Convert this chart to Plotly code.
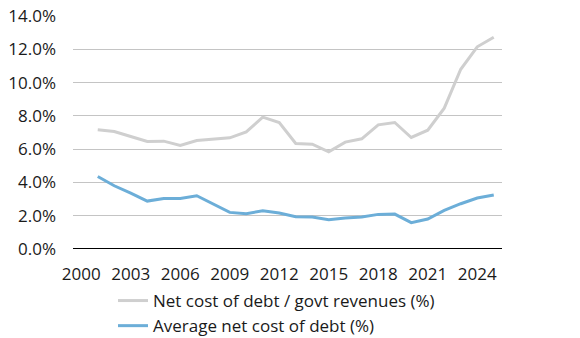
import plotly.graph_objects as go

years = list(range(2001, 2026))
debt_rev = [7.16, 7.06, 6.76, 6.46, 6.48, 6.22, 6.52, 6.62, 6.68, 7.04, 7.92, 7.60,
            6.34, 6.30, 5.84, 6.42, 6.62, 7.46, 7.60, 6.70, 7.14, 8.46, 10.8, 12.15, 12.72]
avg_cost = [4.36, 3.80, 3.36, 2.88, 3.04, 3.04, 3.20, 2.72, 2.20, 2.12, 2.30, 2.16,
            1.94, 1.92, 1.76, 1.86, 1.92, 2.08, 2.10, 1.58, 1.80, 2.32, 2.72, 3.06, 3.24]
x_ticks = list(range(2000, 2026, 3))
y_ticks = [0, 2, 4, 6, 8, 10, 12, 14]

font = "Open Sans"
fig = go.Figure()
fig.add_trace(go.Scatter(x=years, y=debt_rev, mode="lines",
                         name="Net cost of debt / govt revenues (%)",
                         line=dict(color="#cfcfcf", width=3)))
fig.add_trace(go.Scatter(x=years, y=avg_cost, mode="lines",
                         name="Average net cost of debt (%)",
                         line=dict(color="#6caed8", width=3)))

fig.update_layout(
    width=580, height=338,
    margin=dict(l=73, r=78, t=16, b=89, autoexpand=False),
    paper_bgcolor="white", plot_bgcolor="white",
    font=dict(family=font, size=17, color="#1a1a1a"),
    showlegend=True,
    legend=dict(x=113/580, y=(338 - 283) / 338, xref="container", yref="container",
                xanchor="left", yanchor="top",
                font=dict(size=17), tracegroupgap=0, itemwidth=30,
                bgcolor="rgba(0,0,0,0)"),
    xaxis=dict(range=[1999.5, 2025.5], tickvals=x_ticks,
               ticktext=[str(v) for v in x_ticks], showgrid=False,
               zeroline=False, showline=False, ticks="",
               ticklabelstandoff=13),
    yaxis=dict(range=[0, 14], tickvals=y_ticks,
               ticktext=[f"{v:.1f}%" for v in y_ticks],
               showgrid=True, gridcolor="#c4c4c4", gridwidth=1,
               zeroline=False, showline=False, ticks="",
               ticklabelstandoff=16),
)
fig.add_shape(type="line", xref="paper", yref="y", x0=0, x1=1, y0=0, y1=0,
              line=dict(color="black", width=2))
fig.write_html("out.html")
